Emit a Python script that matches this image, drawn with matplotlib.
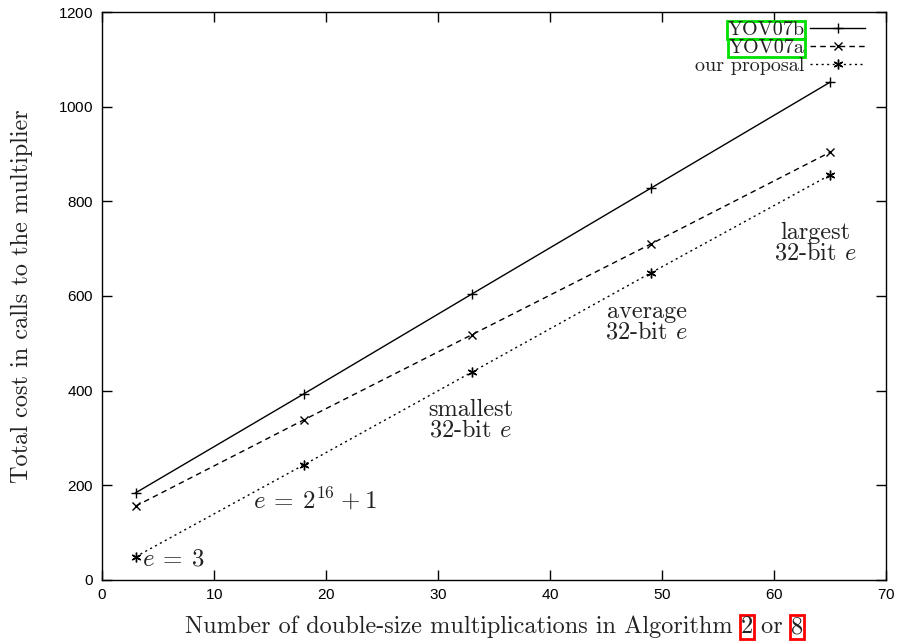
import matplotlib
matplotlib.use("Agg")
import matplotlib.pyplot as plt

plt.rcParams['mathtext.fontset'] = 'cm'
plt.rcParams['axes.formatter.use_mathtext'] = True

x = [3, 18, 33, 49, 65]
yov07b = [184, 393, 604, 828, 1052]
yov07a = [156, 338, 518, 710, 904]
ours = [49, 243, 439, 649, 856]
labels = ["YOV07b", "YOV07a", "our proposal"]

serif = "cmr10"

fig = plt.figure(figsize=(9.1, 6.42), dpi=100)
ax = fig.add_axes([0.112, 0.0966, 0.862, 0.8847])

ax.plot(x, yov07b, color="black", lw=1.0, ls="-", marker="+", ms=7, mew=1.0, label=labels[0])
ax.plot(x, yov07a, color="black", lw=1.0, ls=(0, (4, 3)), marker="x", ms=6, mew=1.0, label=labels[1])
ax.plot(x, ours, color="black", lw=1.0, ls=(0, (1.5, 2.5)), marker=(6, 2, 0), ms=7, mew=1.0, label=labels[2])

ax.set_xlim(0, 70)
ax.set_ylim(0, 1200)
ax.set_xticks(range(0, 71, 10))
ax.set_yticks(range(0, 1201, 200))
ax.tick_params(direction="in", top=True, right=True, length=7, width=1.0, labelsize=11, pad=6)
for lab in ax.get_xticklabels() + ax.get_yticklabels():
    lab.set_family("Liberation Sans")
for s in ax.spines.values():
    s.set_linewidth(1.0)

ax.set_ylabel("Total cost in calls to the multiplier", family=serif, fontsize=17.5,
              labelpad=18, color="#222222")

leg = ax.legend(loc="upper right", frameon=False, markerfirst=False,
                handlelength=2.7, handletextpad=0.3, labelspacing=0.0,
                borderaxespad=0.0, borderpad=0.1, bbox_to_anchor=(0.975, 0.988),
                prop={"family": serif, "size": 14.5})
for i, t in enumerate(leg.get_texts()):
    t.set_color("#222222")
    if i < 2:
        t.set_bbox(dict(facecolor="none", edgecolor="#00e000", lw=2.0, pad=0.3))

tk = dict(family=serif, fontsize=17.5, ha="center", va="center", linespacing=0.9, color="#222222")
ax.text(63.7, 712, "largest\n32-bit $e$", **tk)
ax.text(48.6, 545, "average\n32-bit $e$", **tk)
ax.text(32.9, 338, "smallest\n32-bit $e$", **tk)
ax.text(19.0, 169, "$e\\:=\\:2^{16}\\:+\\:1$", fontsize=18, ha="center", va="center", color="#222222")
ax.text(3.6, 46, "$e\\:=\\:3$", fontsize=18, ha="left", va="center", color="#222222")

# x label built from pieces so the references can be boxed
fig.canvas.draw()
r = fig.canvas.get_renderer()
parts = ["Number of double-size multiplications in Algorithm ", "2", " or ", "8"]
texts = []
for p in parts:
    t = fig.text(0, 0.014, p, family=serif, fontsize=17.5, va="baseline", color="#222222")
    texts.append(t)
widths = [t.get_window_extent(r).width for t in texts]
total = sum(widths)
cx = (102 + 886) / 2 / 910 * fig.bbox.width
start = cx - total / 2
for t, w, p in zip(texts, widths, parts):
    t.set_x(start / fig.bbox.width)
    if p in ("2", "8"):
        t.set_bbox(dict(facecolor="none", edgecolor="red", lw=2.0, pad=0.5))
    start += w

fig.savefig("out.png", dpi=100)
